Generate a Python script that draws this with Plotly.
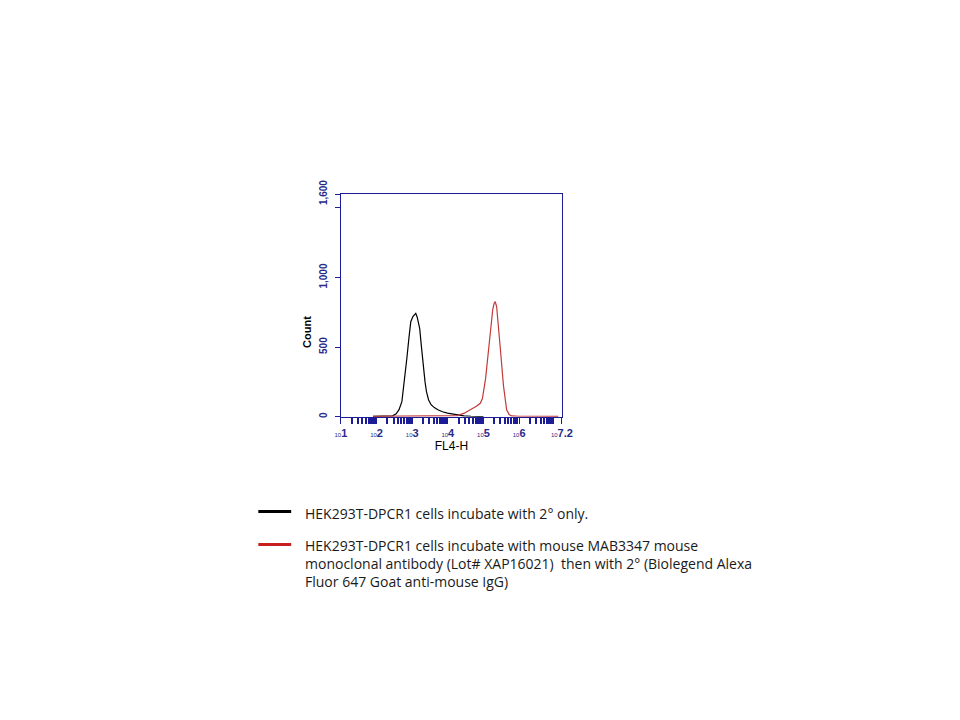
import numpy as np
import plotly.graph_objects as go

# Black: secondary only (log10 FL4-H, count)
black_logx = [1.9, 2.2, 2.45, 2.55, 2.63, 2.71, 2.78, 2.85, 2.91, 2.96, 3.02, 3.07, 3.10, 3.14, 3.21, 3.26,
              3.31, 3.36, 3.40, 3.46, 3.53, 3.62, 3.72, 3.85, 3.99, 4.13, 4.27, 4.45, 4.65, 5.0]
black_count = [2, 3, 6, 20, 50, 108, 250, 420, 570, 683, 720, 735, 743, 715, 635, 500,
               360, 250, 180, 120, 86, 65, 50, 35, 25, 18, 12, 6, 3, 1]

# Red: MAB3347 + secondary
red_logx = [1.9, 2.5, 3.0, 3.5, 4.0, 4.27, 4.46, 4.6, 4.69, 4.8, 4.91, 4.97, 5.06, 5.13, 5.20, 5.26,
            5.30, 5.33, 5.37, 5.42, 5.49, 5.56, 5.65, 5.72, 5.79, 6.0, 6.5, 7.1]
red_count = [2, 3, 3, 4, 5, 8, 25, 45, 55, 75, 96, 130, 275, 450, 635, 770,
             815, 827, 790, 660, 440, 225, 50, 15, 5, 3, 2, 2]

x_tick_vals = [1, 2, 3, 4, 5, 6, 7.2]
x_tick_exp = ["1", "2", "3", "4", "5", "6", "7.2"]
x_tick_text = ["<span style='font-size:6px'>10</span><b>" + e + "</b>" for e in x_tick_exp]
y_tick_vals = [0, 500, 1000, 1500, 1600]
y_tick_text = ["<b>0</b>", "<b>500</b>", "<b>1,000</b>", "", "<b>1,600</b>"]

legend_labels = [
    "HEK293T-DPCR1 cells incubate with 2° only.",
    "HEK293T-DPCR1 cells incubate with mouse MAB3347 mouse<br>monoclonal antibody (Lot# XAP16021)  then with 2° (Biolegend Alexa<br>Fluor 647 Goat anti-mouse IgG)",
]
legend_colors = ["#000000", "#c81e1e"]

# minor log ticks (axis configuration)
minor_vals = [d + np.log10(k) for d in range(1, 8) for k in range(2, 10) if d + np.log10(k) <= 7.2]

AX = "#1c1c96"
TXT = "#2a2a8a"
W, H = 960, 720


def sx(t):  # screen x -> figure px (calibrated)
    return (t - 11.5) / 0.987


def sy(t):  # screen y -> figure px (calibrated)
    return (t - 19.6) / 0.981


px0, px1, py0, py1 = sx(340), sx(562), sy(192), sy(415)

fig = go.Figure()
fig.add_trace(go.Scatter(x=black_logx, y=black_count, mode="lines",
                         line=dict(color=legend_colors[0], width=1.2), showlegend=False))
fig.add_trace(go.Scatter(x=red_logx, y=red_count, mode="lines",
                         line=dict(color="#c03a3a", width=1.2), showlegend=False))

fig.update_layout(
    width=W, height=H, paper_bgcolor="white", plot_bgcolor="white",
    margin=dict(l=0, r=0, t=0, b=0), showlegend=False,
    font=dict(family="Liberation Sans, Arial, sans-serif", color="black"),
    xaxis=dict(domain=[px0 / W, px1 / W], range=[1, 7.2], showgrid=False, zeroline=False,
               showline=True, linecolor=AX, linewidth=1.2, mirror=True,
               tickvals=x_tick_vals, ticktext=x_tick_text, ticks="outside", ticklen=6,
               tickcolor=AX, tickfont=dict(size=11, color=TXT),
               minor=dict(tickvals=minor_vals, ticks="outside", ticklen=6, tickcolor=AX, tickwidth=1.5),
               title=dict(text="FL4-H", font=dict(size=12, color="black"), standoff=2)),
    yaxis=dict(domain=[1 - py1 / H, 1 - py0 / H], range=[0, 1600], showgrid=False, zeroline=False,
               showline=True, linecolor=AX, linewidth=1.2, mirror=True,
               tickvals=y_tick_vals, ticktext=y_tick_text, ticks="outside", ticklen=5,
               ticklabelstandoff=4,
               tickcolor=AX, tickangle=-90, tickfont=dict(size=10, color=TXT)),
)

# y-axis title placed where it sits in the source figure
fig.add_annotation(xref="paper", yref="paper", x=sx(298) / W, y=1 - sy(330) / H, text="<b>Count</b>",
                   textangle=-90, showarrow=False, font=dict(size=11, color="black"))

# legend block (below the chart)
leg_rows = [510, 543]
for lab, col, yy in zip(legend_labels, legend_colors, leg_rows):
    fig.add_shape(type="line", xref="paper", yref="paper",
                  x0=sx(257) / W, x1=sx(290) / W, y0=1 - sy(yy) / H, y1=1 - sy(yy) / H,
                  line=dict(color=col, width=3))
    fig.add_annotation(xref="paper", yref="paper", x=sx(302) / W, y=1 - sy(yy - 10) / H,
                       text=lab, showarrow=False, xanchor="left", yanchor="top", align="left",
                       font=dict(family="Open Sans, Liberation Sans, sans-serif", size=14, color="#1a1a1a"))

fig.write_html("out.html")
